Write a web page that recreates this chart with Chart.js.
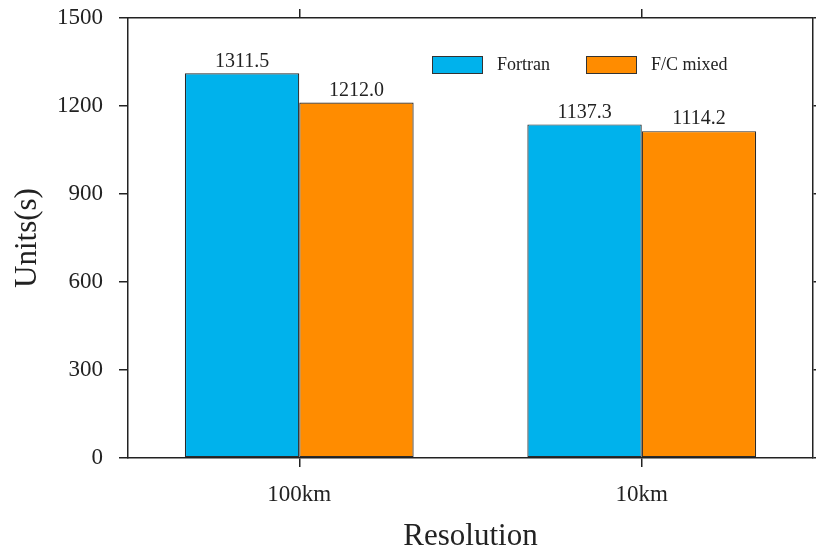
<!DOCTYPE html>
<html lang="en">
<head>
<meta charset="UTF-8">
<title>Resolution chart</title>
<style>
  body { margin: 0; background: #ffffff; }
  #wrap { position: relative; width: 816px; height: 549px; }
</style>
</head>
<body>
<div id="wrap"><canvas id="myChart"></canvas></div>
<script src="https://cdn.jsdelivr.net/npm/chart.js"></script>
<script>
const categories = ['100km', '10km'];
const fortranValues = [1311.5, 1137.3];
const mixedValues = [1212.0, 1114.2];
const seriesNames = ['Fortran', 'F/C mixed'];
const yTicks = [0, 300, 600, 900, 1200, 1500];

const FONT = '"Liberation Serif", "Times New Roman", serif';
const INK = '#222222';

// value labels above each bar
const barLabels = {
  id: 'barLabels',
  afterDatasetsDraw(chart) {
    const ctx = chart.ctx;
    ctx.save();
    ctx.font = '20px ' + FONT;
    ctx.fillStyle = INK;
    ctx.textAlign = 'center';
    ctx.textBaseline = 'bottom';
    chart.data.datasets.forEach((ds, i) => {
      chart.getDatasetMeta(i).data.forEach((bar, j) => {
        ctx.fillText(ds.data[j].toFixed(1), bar.x, bar.y - 2);
      });
    });
    ctx.restore();
  }
};

// legend drawn inside the plot area
const boxLegend = {
  id: 'boxLegend',
  afterDraw(chart) {
    const ctx = chart.ctx;
    const a = chart.chartArea;
    ctx.save();
    ctx.font = '18px ' + FONT;
    ctx.textBaseline = 'middle';
    let x = a.left + 304;
    const y = a.top + 38;
    chart.data.datasets.forEach((ds) => {
      ctx.fillStyle = ds.backgroundColor;
      ctx.fillRect(x, y, 50, 17);
      ctx.strokeStyle = '#333333';
      ctx.lineWidth = 1;
      ctx.strokeRect(x + 0.5, y + 0.5, 50, 17);
      ctx.fillStyle = INK;
      ctx.fillText(ds.label, x + 65, y + 9);
      x += 154;
    });
    ctx.restore();
  }
};

const edgeGrid = (len) => ({
  drawOnChartArea: false,
  offset: false,
  tickLength: len,
  color: INK,
  lineWidth: 1.5
});

new Chart(document.getElementById('myChart'), {
  type: 'bar',
  data: {
    labels: categories,
    datasets: [
      { label: seriesNames[0], data: fortranValues, backgroundColor: '#00B2EC' },
      { label: seriesNames[1], data: mixedValues, backgroundColor: '#FF8C00' }
    ]
  },
  options: {
    responsive: true,
    maintainAspectRatio: false,
    animation: false,
    layout: { padding: 0 },
    datasets: {
      bar: {
        categoryPercentage: 0.668,
        barPercentage: 1.0,
        borderColor: '#2a2a2a',
        borderWidth: 1.2,
        borderSkipped: false
      }
    },
    plugins: { legend: { display: false }, tooltip: { enabled: false } },
    scales: {
      x: {
        position: 'bottom',
        offset: true,
        grid: edgeGrid(9),
        border: { color: INK, width: 1.5 },
        ticks: { font: { family: FONT, size: 23 }, color: INK, padding: 14 },
        title: { display: true, text: 'Resolution', font: { family: FONT, size: 31 }, color: INK, padding: { top: 0, bottom: -6 } },
        afterFit(s) { s.height = 91; s.paddingLeft = 0; s.paddingRight = 0; }
      },
      x2: {
        type: 'category',
        labels: categories,
        position: 'top',
        offset: true,
        grid: edgeGrid(9),
        border: { color: INK, width: 1.5 },
        ticks: { display: false },
        afterFit(s) { s.height = 18; }
      },
      y: {
        position: 'left',
        min: 0,
        max: 1500,
        afterBuildTicks(s) { s.ticks = yTicks.map(v => ({ value: v })); },
        grid: edgeGrid(9),
        border: { color: INK, width: 1.5 },
        ticks: { font: { family: FONT, size: 23 }, color: INK, padding: 16, callback: v => String(v) },
        title: { display: true, text: 'Units(s)', font: { family: FONT, size: 31 }, color: INK, padding: { top: 9, bottom: 0 } },
        afterFit(s) { s.width = 128; s.paddingTop = 0; s.paddingBottom = 0; }
      },
      y2: {
        position: 'right',
        min: 0,
        max: 1500,
        afterBuildTicks(s) { s.ticks = yTicks.map(v => ({ value: v })); },
        grid: edgeGrid(6),
        border: { color: INK, width: 1.5 },
        ticks: { display: false },
        afterFit(s) { s.width = 3; s.paddingTop = 0; s.paddingBottom = 0; }
      }
    }
  },
  plugins: [barLabels, boxLegend]
});
</script>
</body>
</html>
